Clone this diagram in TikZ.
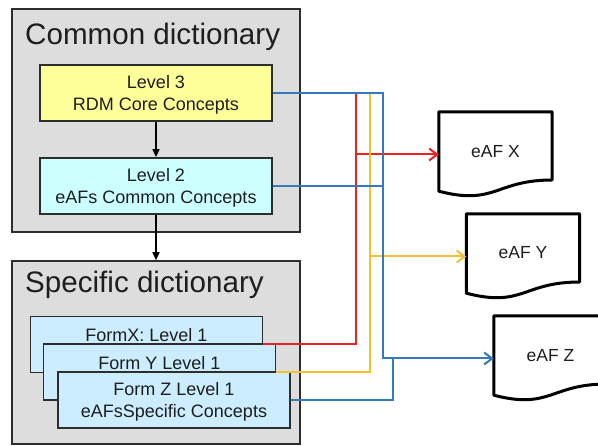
\documentclass[tikz,border=0pt]{standalone}
\usepackage{fontspec}
\setmainfont{Liberation Sans}
\usetikzlibrary{arrows.meta,calc}
\definecolor{dictgray}{RGB}{221,221,221}
\definecolor{boxline}{RGB}{45,45,45}
\definecolor{lvlyellow}{RGB}{255,255,153}
\definecolor{lvlcyan}{RGB}{204,255,255}
\definecolor{formblue}{RGB}{204,236,255}
\definecolor{conred}{RGB}{240,32,32}
\definecolor{conyellow}{RGB}{245,192,45}
\definecolor{conblue}{RGB}{52,122,190}
\definecolor{txt}{RGB}{30,30,30}
\tikzset{
  dictbox/.style={draw=boxline, fill=dictgray, line width=1.6pt, inner sep=0pt},
  titletext/.style={inner sep=0pt, anchor=base west, text=txt, font=\fontsize{29.6}{32}\selectfont},
  lvlbox/.style={draw=boxline, line width=1.8pt, minimum width=232pt, minimum height=56pt, inner sep=0pt},
  formbox/.style={draw=boxline, fill=formblue, line width=1.8pt, minimum width=232pt, minimum height=56pt, inner sep=0pt},
  boxtext/.style={inner sep=0pt, align=center, text=txt, font=\fontsize{18}{21.5}\selectfont},
  docnode/.style={minimum width=113pt, minimum height=85pt, inner sep=0pt, text=txt, font=\fontsize{17.5}{21}\selectfont},
  docline/.style={draw=black, line width=3pt, line join=round},
  flowarrow/.style={draw=black, line width=1.6pt, -{Triangle[length=8pt,width=7pt]}},
  conline/.style={line width=2pt},
  contip/.style={-{Straight Barb[length=8pt,width=12pt]}},
}
\newcommand{\docshape}[1]{%
  \draw[docline] (#1.north west) -- (#1.north east) -- ([yshift=-68.2pt]#1.north east)
    .. controls ([yshift=-68.2pt]#1.north) and ([yshift=-94.1pt]#1.north) .. ([yshift=-79.4pt]#1.north west) -- cycle;}
\begin{document}
\begin{tikzpicture}[x=1pt,y=-1pt]
\useasboundingbox (0,0) rectangle (598,446);

% dictionary containers
\node[dictbox, minimum width=288pt, minimum height=223pt] (common) at (156,120.5) {};
\node[titletext] (commontitle) at (25,45) {Common dictionary};
\node[dictbox, minimum width=288pt, minimum height=183pt] (specific) at (156,352.5) {};
\node[titletext] (specifictitle) at (25,293) {Specific dictionary};

% level boxes
\node[lvlbox, fill=lvlyellow] (l3) at (156,93) {};
\node[boxtext] (l3t) at (156,95) {Level 3\\RDM Core Concepts};
\node[lvlbox, fill=lvlcyan] (l2) at (156,186) {};
\node[boxtext] (l2t) at (156,188) {Level 2\\eAFs Common Concepts};

% form boxes
\node[formbox] (formx) at (146.5,344.5) {};
\node[boxtext] (formxt) at (146.5,335) {FormX: Level 1};
\node[formbox] (formy) at (159.5,372) {};
\node[boxtext] (formyt) at (159.5,363) {Form Y Level 1};
\node[formbox] (formz) at (174,400) {};
\node[boxtext] (formzt) at (174,402) {Form Z Level 1\\eAFsSpecific Concepts};

% flow arrows
\draw[flowarrow] (l3.south) -- (l2.north);
\draw[flowarrow] (l2.south) -- (specific.north);

% documents
\node[docnode] (eafx) at (495.5,154.5) {\raisebox{7pt}{eAF X}};
\node[docnode] (eafy) at (523,256.5) {\raisebox{8pt}{eAF Y}};
\node[docnode] (eafz) at (550.5,358.5) {\raisebox{7pt}{eAF Z}};
\docshape{eafx}
\docshape{eafy}
\docshape{eafz}

% routing coordinates
\coordinate (redx) at (356,93);
\coordinate (yelx) at (370,93);
\coordinate (bluex) at (383,93);
\coordinate (bluez) at (393,93);

% red
\draw[conline, conred] (formx.east) -| (redx);
\draw[conline, conred, contip] (redx |- eafx.west) -- (eafx.west);
% yellow
\draw[conline, conyellow] (formy.east) -| (yelx);
\draw[conline, conyellow, contip] (yelx |- eafy.west) -- (eafy.west);
% blue
\draw[conline, conblue] (l2.east) -- (l2.east -| bluex);
\draw[conline, conblue] (formz.east) -| (bluez |- eafz.west);
\draw[conline, conblue, contip] (l3.east) -| (bluex |- eafz.west) -- (eafz.west);
\end{tikzpicture}
\end{document}
